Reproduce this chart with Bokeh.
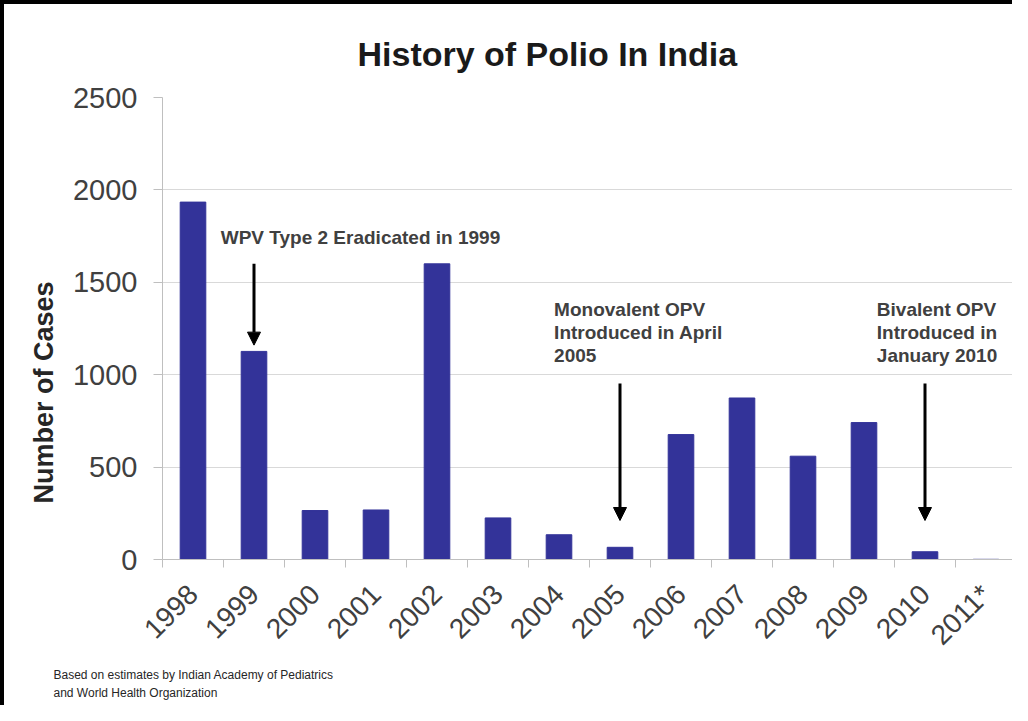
import numpy as np
from bokeh.plotting import figure
from bokeh.models import ColumnDataSource, FixedTicker, CustomJSTickFormatter, Label, Arrow, NormalHead, Range1d, Title
from bokeh.embed import file_html
from bokeh.resources import INLINE

years = ["1998", "1999", "2000", "2001", "2002", "2003", "2004", "2005",
         "2006", "2007", "2008", "2009", "2010", "2011*"]
cases = [1934, 1126, 265, 268, 1600, 225, 134, 66, 676, 874, 559, 741, 42, 1]
y_ticks = [0, 500, 1000, 1500, 2000, 2500]

FONT = "Liberation Sans"
TXT = "#404040"

xpos = np.arange(len(years)) + 0.5
src = ColumnDataSource(dict(x=xpos, cases=cases, year=years))

p = figure(width=1012, height=705, output_backend="svg", toolbar_location=None,
           x_range=Range1d(0, len(years)), y_range=Range1d(0, 2500),
           min_border_left=158, min_border_right=0, min_border_top=93, min_border_bottom=150)
p.styles = {"border-top": "4px solid black", "border-left": "4px solid black"}
p.outline_line_color = None
p.background_fill_color = "white"
p.border_fill_color = "white"

p.vbar(x="x", top="cases", width=0.42, source=src, fill_color="#333399", line_color="#333399")

# y axis
p.yaxis.ticker = FixedTicker(ticks=y_ticks)
p.yaxis.axis_line_color = "#bfbfbf"
p.yaxis.major_tick_line_color = "#bfbfbf"
p.yaxis.major_tick_out = 9
p.yaxis.major_tick_in = 0
p.yaxis.minor_tick_line_color = None
p.yaxis.major_label_text_font = FONT
p.yaxis.major_label_text_font_size = "29px"
p.yaxis.major_label_text_color = TXT
p.yaxis.major_label_standoff = 16

p.ygrid.grid_line_color = "#d9d9d9"
p.xgrid.grid_line_color = None

# x axis
p.xaxis.ticker = FixedTicker(ticks=list(xpos), minor_ticks=list(range(len(years) + 1)))
p.xaxis.formatter = CustomJSTickFormatter(args=dict(years=years),
                                          code="return years[Math.floor(tick)];")
p.xaxis.axis_line_color = "#bfbfbf"
p.xaxis.major_tick_line_color = None
p.xaxis.minor_tick_line_color = "#bfbfbf"
p.xaxis.minor_tick_out = 8
p.xaxis.minor_tick_in = 0
p.xaxis.major_label_orientation = np.pi / 4
p.xaxis.major_label_text_font = FONT
p.xaxis.major_label_text_font_size = "28px"
p.xaxis.major_label_text_color = TXT
p.xaxis.major_label_standoff = 22

# title
p.title = Title(text="History of Polio In India", align="left", offset=195, standoff=50,
                text_font=FONT, text_font_size="34px", text_font_style="bold",
                text_color="#1a1a1a")

# y axis label as a left title (can be shifted along the axis)
p.add_layout(Title(text="Number of Cases", align="left", offset=56, standoff=22,
                   text_font=FONT, text_font_size="27px", text_font_style="bold",
                   text_color="#262626"), "left")

# footnote
for line, so in [("Based on estimates by Indian Academy of Pediatrics", 3),
                 ("and World Health Organization", 0)]:
    p.add_layout(Title(text=line, align="left", offset=-109, standoff=so,
                       text_font=FONT, text_font_size="12px", text_font_style="normal",
                       text_color="#262626"), "below")

# annotations
ann = dict(text_font=FONT, text_font_size="19px", text_font_style="bold",
           text_color=TXT, text_baseline="middle", text_align="left")
p.add_layout(Label(x=0.955, y=1742, text="WPV Type 2 Eradicated in 1999", **ann))
for i, t in enumerate(["Monovalent OPV", "Introduced in April", "2005"]):
    p.add_layout(Label(x=6.42, y=1353 - i * 124, text=t, **ann))
for i, t in enumerate(["Bivalent OPV", "Introduced in", "January 2010"]):
    p.add_layout(Label(x=11.71, y=1353 - i * 124, text=t, **ann))

def arrow(year, y0, y1):
    xi = years.index(year) + 0.5
    p.add_layout(Arrow(end=NormalHead(size=13, fill_color="black", line_color="black"),
                       x_start=xi, y_start=y0, x_end=xi, y_end=y1,
                       line_width=3, line_color="black"))

arrow("1999", 1600, 1160)
arrow("2005", 952, 211)
arrow("2010", 952, 211)

open("out.html", "w").write(file_html(p, INLINE))
